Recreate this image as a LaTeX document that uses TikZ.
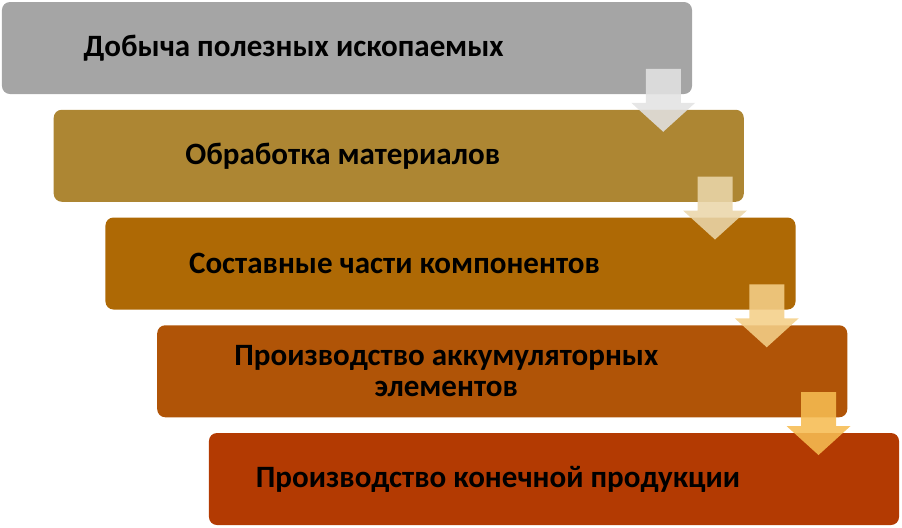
\documentclass[tikz,border=0pt]{standalone}
\usepackage{fontspec}
\setmainfont{Carlito}
\usepackage{tikz}
\usetikzlibrary{calc,positioning}

\definecolor{stepA}{HTML}{A5A5A5}
\definecolor{stepB}{HTML}{AD8633}
\definecolor{stepC}{HTML}{AE6905}
\definecolor{stepD}{HTML}{B05407}
\definecolor{stepE}{HTML}{B33A02}
\definecolor{arrA}{HTML}{E2E2E2}
\definecolor{arrB}{HTML}{EAD6AA}
\definecolor{arrC}{HTML}{F4CF88}
\definecolor{arrD}{HTML}{F6BC52}

\begin{document}
\begin{tikzpicture}
[x=0.03cm,y=-0.03cm,
 stage/.style={rectangle,rounded corners=0.24cm,minimum width=20.7cm,minimum height=2.76cm,inner sep=0pt},
 stagetext/.style={font=\fontsize{26.5}{26.5}\selectfont\bfseries,align=center,inner sep=0pt},
 flow/.style={fill opacity=0.88}];
\useasboundingbox (0,0) rectangle (902,527);

% stages
\foreach \k/\c in {0/stepA,1/stepB,2/stepC,3/stepD,4/stepE}
  \node[stage,fill=\c] (b\k) at (347+51.75*\k, 48+107.75*\k) {};

\node[stagetext] (t0) at ([xshift=-1.6cm]b0.center) {Добыча полезных ископаемых};
\node[stagetext] (t1) at ([xshift=-1.68cm]b1.center) {Обработка материалов};
\node[stagetext] (t2) at ([xshift=-1.68cm]b2.center) {Составные части компонентов};
\node[stagetext] (t3) at ([xshift=-1.68cm]b3.center) {Производство аккумуляторных\\элементов};
\node[stagetext] (t4) at ([xshift=-1.68cm]b4.center) {Производство конечной продукции};

% arrows between stages
\foreach \k/\c in {0/arrA,1/arrB,2/arrC,3/arrD}
  \fill[flow,fill=\c] ($(b\k.north east)+(-29,67)$) ++(-17.5,0) -- ++(0,34) -- ++(-14.5,0)
    -- ++(32,29) -- ++(32,-29) -- ++(-14.5,0) -- ++(0,-34) -- cycle;
\end{tikzpicture}
\end{document}
